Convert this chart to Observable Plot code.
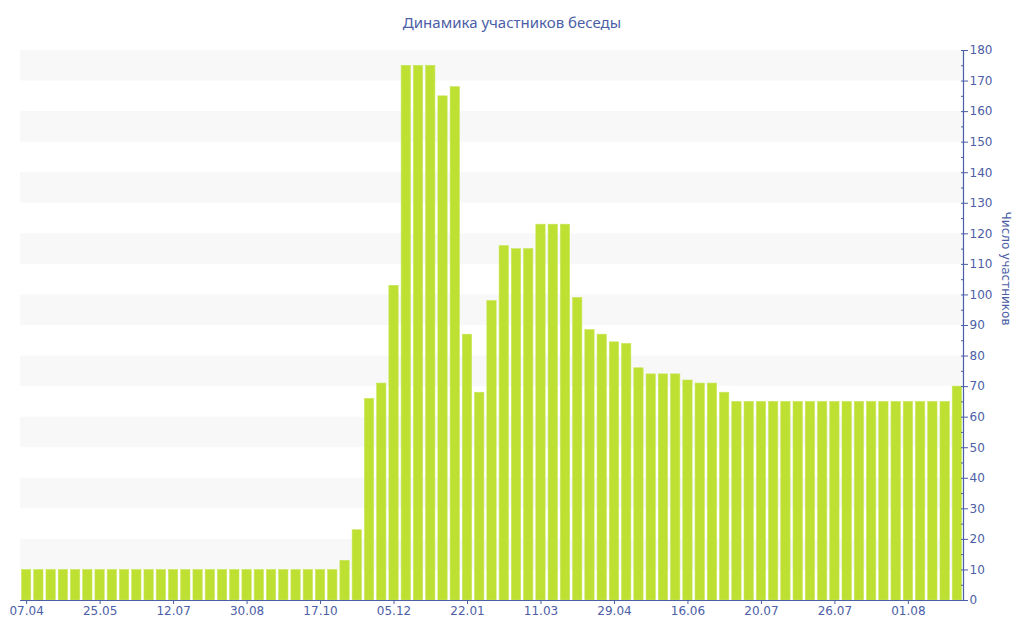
<!DOCTYPE html>
<html>
<head>
<meta charset="utf-8">
<script src="https://cdn.jsdelivr.net/npm/d3@7"></script>
<script src="https://cdn.jsdelivr.net/npm/@observablehq/plot@0.6"></script>
<style>
  body { margin: 0; background: #fff; }
  #title { height: 40px; line-height: 44px; text-align: center; font-family: "Noto Sans", sans-serif; font-size: 15px; color: #4b5ea6; }
</style>
</head>
<body>
<div id="title">Динамика участников беседы</div>
<div id="chart"></div>
<script>
const counts = [
  10,10,10,10,10,10,10,10,10,10,10,10,10,10,10,10,10,10,10,10,10,10,10,10,10,10,
  13,23,66,71,103,175,175,175,165,168,87,68,98,116,115,115,123,123,123,99,
  88.5,87,84.5,84,76,74,74,74,72,71,71,68,
  65,65,65,65,65,65,65,65,65,65,65,65,65,65,65,65,65,65,70
];
const tickLabels = ["07.04","25.05","12.07","30.08","17.10","05.12","22.01","11.03","29.04","16.06","20.07","26.07","01.08"];
const tickEvery = 6;
const yMajor = d3.range(0, 181, 10);
const yMinor = d3.range(5, 180, 10);
const stripeStarts = [10, 30, 50, 70, 90, 110, 130, 150, 170];
const axisColor = "#4b5ea6";
const barColor = "#bde032";

const idx = d3.range(counts.length);
const tickIdx = tickLabels.map((_, i) => i * tickEvery);

const chart = Plot.plot({
  width: 1024,
  height: 600,
  marginTop: 10,
  marginBottom: 40,
  marginLeft: 20,
  marginRight: 61,
  style: { fontFamily: "DejaVu Sans, sans-serif", fontSize: "12px", color: axisColor, background: "white" },
  x: { type: "band", domain: idx, paddingInner: 0.24, paddingOuter: 0.12, round: false, axis: null },
  y: { domain: [0, 180], axis: null },
  marks: [
    Plot.rect(stripeStarts, { y1: d => d, y2: d => d + 10, fill: "#f8f8f8" }),
    Plot.barY(idx, { x: d => d, y: i => counts[i], fill: barColor, stroke: "#c8e65a", strokeWidth: 0.6 }),
    Plot.ruleY([0], { stroke: axisColor, strokeWidth: 1.2 }),
    Plot.frame({ anchor: "right", stroke: axisColor, strokeWidth: 1.2 }),
    Plot.axisX({ ticks: tickIdx, tickFormat: i => tickLabels[i / tickEvery], tickSize: 4, tickPadding: 2, stroke: axisColor, fill: axisColor, label: null }),
    Plot.axisY({ anchor: "right", ticks: yMinor, tickSize: 3, dx: -3, text: null, stroke: axisColor, label: null }),
    Plot.axisY({ anchor: "right", ticks: yMajor, tickSize: 7, dx: -3, text: null, stroke: axisColor, label: null }),
    Plot.axisY({ anchor: "right", ticks: yMajor, tickSize: 0, tickPadding: 6, fill: axisColor, label: null }),
    Plot.text(["Число участников"], { frameAnchor: "right", dx: 42, rotate: 90, fill: axisColor, fontSize: 12 })
  ]
});
document.getElementById("chart").appendChild(chart);
</script>
</body>
</html>
